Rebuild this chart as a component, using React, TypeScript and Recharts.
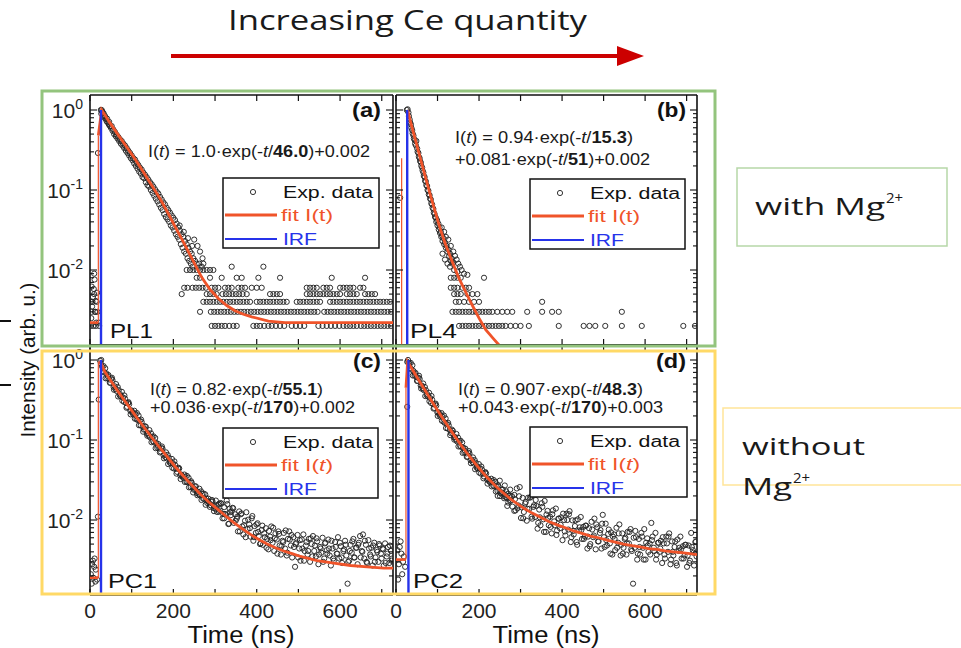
import React from "react";
import { ScatterChart, Scatter, XAxis, YAxis } from "recharts";

// ---------- axis definitions ----------
const X_TICKS = [0, 100, 200, 300, 400, 500, 600, 700];
const X_LABELED = [0, 200, 400, 600];
const Y_TICKS = [0.002, 0.003, 0.004, 0.005, 0.006, 0.007, 0.008, 0.009, 0.01, 0.02, 0.03, 0.04, 0.05, 0.06, 0.07, 0.08, 0.09, 0.1, 0.2, 0.3, 0.4, 0.5, 0.6, 0.7, 0.8, 0.9, 1];
const Y_MAJOR = [0.01, 0.1, 1];
const Y_DOMAIN = [0.001155, 1.54];

// ---------- (a) PL1 ----------
const pl1Pre = [[3, 0.0025], [5, 0.0035], [7, 0.0046], [9, 0.0058], [11, 0.0076], [13, 0.003], [15, 0.0022], [4, 0.0062], [10, 0.009], [14, 0.0041], [17, 0.0052], [19, 0.29], [21, 0.0022], [2, 0.004]];
const pl1Decay = [[26, 1.0], [28, 1.0], [30, 0.95], [27, 0.9], [30, 0.93], [32, 0.85], [33, 0.9], [35, 0.8], [36, 0.84], [38, 0.77], [40, 0.72], [41, 0.78], [43, 0.7], [45, 0.66], [46, 0.71], [48, 0.63], [50, 0.6], [52, 0.63], [54, 0.55], [56, 0.57], [58, 0.5], [60, 0.53], [62, 0.47], [64, 0.49], [66, 0.44], [68, 0.46], [70, 0.41], [72, 0.43], [74, 0.38], [76, 0.41], [78, 0.36], [80, 0.38], [82, 0.335], [84, 0.36], [86, 0.31], [88, 0.335], [90, 0.29], [92, 0.31], [94, 0.27], [96, 0.29], [98, 0.25], [100, 0.27], [102, 0.235], [104, 0.25], [106, 0.215], [108, 0.24], [110, 0.2], [112, 0.22], [114, 0.185], [116, 0.205], [118, 0.17], [120, 0.19], [122, 0.16], [124, 0.18], [126, 0.145], [128, 0.165], [130, 0.14], [132, 0.155], [134, 0.125], [136, 0.145], [138, 0.115], [140, 0.135], [142, 0.11], [144, 0.125], [146, 0.1], [148, 0.118], [150, 0.092], [152, 0.11], [154, 0.085], [156, 0.102], [158, 0.078], [160, 0.095], [162, 0.072], [164, 0.09], [166, 0.066], [168, 0.082], [170, 0.06], [172, 0.076], [174, 0.056], [176, 0.07], [178, 0.05], [180, 0.066], [182, 0.046], [184, 0.06], [186, 0.043], [188, 0.056], [190, 0.04], [192, 0.052], [194, 0.036], [196, 0.048], [198, 0.034], [200, 0.045], [202, 0.031], [204, 0.042], [206, 0.028], [208, 0.038], [210, 0.026], [212, 0.034], [214, 0.024], [216, 0.031], [218, 0.021], [220, 0.028], [222, 0.019], [224, 0.026], [226, 0.017], [228, 0.023], [230, 0.016], [232, 0.021], [234, 0.014], [236, 0.019], [238, 0.013], [240, 0.017], [242, 0.012], [244, 0.016], [246, 0.011], [248, 0.014], [252, 0.013], [256, 0.012], [215, 0.036], [225, 0.03], [235, 0.025], [245, 0.02], [250, 0.024], [258, 0.02], [264, 0.017], [270, 0.014], [262, 0.012], [268, 0.011], [272, 0.012], [340, 0.011], [416, 0.011]];
const pl1RowLevels = [0.002, 0.003, 0.004, 0.005, 0.006, 0.008, 0.01];
const pl1RowTimes = [
  [2, 8, 14, 22, 292, 300, 308, 316, 324, 334, 344, 352, 392, 400, 408, 418, 428, 436, 446, 456, 466, 484, 494, 504, 514, 548, 558, 568, 578, 588, 598, 608, 616, 624, 632, 640, 650, 658, 666, 674, 682, 690, 698, 706, 714, 722],
  [4, 12, 18, 264, 290, 298, 306, 314, 322, 330, 338, 346, 354, 362, 370, 378, 386, 394, 402, 410, 418, 426, 434, 442, 450, 458, 466, 474, 482, 490, 498, 506, 514, 522, 530, 538, 546, 562, 570, 578, 586, 594, 602, 610, 618, 626, 634, 642, 650, 658, 666, 674, 682, 690, 698, 706, 714, 722],
  [6, 16, 272, 280, 288, 296, 304, 312, 320, 328, 336, 344, 352, 360, 368, 376, 384, 400, 408, 416, 424, 432, 440, 448, 456, 464, 472, 496, 504, 512, 520, 528, 536, 544, 552, 576, 584, 592, 600, 608, 616, 624, 632, 640, 648, 656, 664, 672, 680, 688, 696, 704, 712, 720],
  [10, 220, 280, 288, 296, 304, 318, 326, 334, 342, 350, 358, 366, 376, 432, 440, 448, 456, 520, 528, 536, 544, 552, 560, 568, 576, 584, 592, 600, 616, 624, 632, 640, 660, 668, 676, 684],
  [226, 234, 246, 254, 262, 270, 278, 292, 300, 308, 324, 332, 340, 356, 364, 372, 388, 400, 412, 520, 528, 536, 544, 560, 568, 576, 600, 608, 616, 624, 632, 648, 656],
  [256, 264, 288, 316, 352, 364, 404, 456, 580, 660],
  [232, 240, 248, 256, 264, 272, 280, 288, 296],
];
const pl1FitRise = [[0, 0.0022], [20, 0.0022]];
const pl1FitRiseThin = [[20, 0.0022], [20, 0.48]];
const pl1Fit = [[20, 0.48], [28, 1.0], [48, 0.69], [68, 0.485], [88, 0.345], [108, 0.244], [128, 0.168], [148, 0.115], [168, 0.078], [188, 0.0505], [208, 0.032], [228, 0.0205], [248, 0.0128], [268, 0.0081], [288, 0.0057], [308, 0.0044], [328, 0.0036], [348, 0.0031], [368, 0.0028], [388, 0.0026], [428, 0.0023], [468, 0.0022], [727, 0.0022]];
const pl1Irf = [[26.4, 0.001155], [26.4, 1.0]];

// ---------- (b) PL4 ----------
const pl4Pre = [[10, 0.08]];
const pl4Decay = [[26, 1.0], [28, 1.02], [30, 0.93], [31, 0.84], [33, 0.76], [34, 0.7], [36, 0.66], [37, 0.6], [39, 0.56], [40, 0.51], [42, 0.48], [43, 0.44], [45, 0.42], [46, 0.38], [48, 0.36], [49, 0.41], [51, 0.33], [52, 0.3], [54, 0.29], [55, 0.26], [57, 0.25], [58, 0.23], [60, 0.22], [61, 0.2], [63, 0.19], [64, 0.175], [66, 0.165], [67, 0.15], [69, 0.145], [70, 0.13], [72, 0.128], [73, 0.115], [75, 0.112], [76, 0.1], [78, 0.098], [79, 0.088], [81, 0.086], [82, 0.078], [84, 0.076], [85, 0.068], [87, 0.066], [88, 0.06], [90, 0.058], [91, 0.052], [93, 0.05], [94, 0.046], [96, 0.045], [97, 0.04], [99, 0.042], [100, 0.036], [102, 0.038], [103, 0.032], [105, 0.034], [106, 0.029], [108, 0.03], [109, 0.026], [111, 0.027], [112, 0.023], [114, 0.025], [116, 0.021], [118, 0.022], [120, 0.019], [122, 0.02], [124, 0.017], [126, 0.018], [128, 0.015], [130, 0.016], [132, 0.013], [134, 0.014], [136, 0.012], [138, 0.0125], [110, 0.034], [116, 0.03], [120, 0.026], [126, 0.024], [132, 0.02], [138, 0.017], [142, 0.015], [146, 0.0135], [150, 0.012], [154, 0.011], [112, 0.016], [118, 0.0135], [124, 0.012], [130, 0.011], [140, 0.01], [148, 0.0095], [158, 0.01], [164, 0.009], [172, 0.0087]];
const pl4RowLevels = [0.002, 0.003, 0.004, 0.005, 0.006, 0.008];
const pl4RowTimes = [
  [152, 160, 168, 176, 184, 192, 200, 208, 216, 224, 232, 240, 248, 256, 264, 276, 288, 300, 320, 392, 452, 466, 480, 504, 544, 592, 692, 720],
  [136, 144, 152, 160, 168, 176, 184, 192, 200, 208, 216, 224, 232, 244, 256, 268, 280, 316, 352, 376, 392, 544],
  [144, 152, 164, 176, 188, 200, 352],
  [140, 148, 156, 172, 184, 196],
  [132, 140, 148, 160, 168, 176],
  [132, 140, 148, 156, 212],
];
const pl4FitRise = [[13.6, 0.001155], [13.6, 0.25]];
const pl4Fit = [[28, 1.0], [36, 0.68], [48, 0.4], [60, 0.235], [72, 0.138], [84, 0.082], [96, 0.05], [108, 0.031], [120, 0.0204], [136, 0.0125], [152, 0.0078], [168, 0.0053], [184, 0.0036], [200, 0.0025], [216, 0.0018], [234, 0.0014], [248, 0.001155]];
const pl4Irf = [[27, 0.001155], [27, 1.0]];

// ---------- (c) PC1 ----------
const pc1Pre = [[2, 0.0021], [5, 0.0028], [8, 0.0019], [11, 0.0033], [14, 0.0024], [17, 0.0018], [4, 0.0016], [10, 0.0026], [19, 0.011], [21, 0.32], [7, 0.0031], [13, 0.0017]];
const pc1Decay = [[24, 0.98], [27, 1.0], [26, 0.9], [29, 0.83], [31.5, 0.72], [34, 0.7], [36.5, 0.79], [39, 0.68], [41.5, 0.59], [44, 0.65], [46.5, 0.57], [49, 0.52], [51.5, 0.58], [54, 0.56], [56.5, 0.46], [59, 0.47], [61.5, 0.43], [64, 0.41], [66.5, 0.46], [69, 0.42], [71.5, 0.36], [74, 0.35], [76.5, 0.4], [79, 0.34], [81.5, 0.3], [84, 0.33], [86.5, 0.29], [89, 0.26], [91.5, 0.29], [94, 0.28], [96.5, 0.233], [99, 0.235], [101.5, 0.219], [104, 0.208], [106.5, 0.232], [109, 0.211], [111.5, 0.183], [114, 0.178], [116.5, 0.202], [119, 0.174], [121.5, 0.152], [124, 0.168], [126.5, 0.148], [129, 0.135], [131.5, 0.149], [134, 0.146], [136.5, 0.12], [139, 0.122], [141.5, 0.113], [144, 0.108], [146.5, 0.121], [149, 0.11], [151.5, 0.096], [154, 0.093], [156.5, 0.106], [159, 0.092], [161.5, 0.08], [164, 0.089], [166.5, 0.078], [169, 0.072], [171.5, 0.079], [174, 0.078], [176.5, 0.064], [179, 0.066], [181.5, 0.061], [184, 0.059], [186.5, 0.065], [189, 0.06], [191.5, 0.052], [194, 0.051], [196.5, 0.058], [199, 0.051], [201.5, 0.044], [204, 0.049], [206.5, 0.044], [209, 0.04], [211.5, 0.044], [214, 0.044], [216.5, 0.036], [219, 0.037], [221.5, 0.035], [224, 0.0335], [226.5, 0.037], [229, 0.0346], [231.5, 0.03], [234, 0.0297], [236.5, 0.0337], [239, 0.0296], [241.5, 0.0258], [244, 0.0292], [246.5, 0.0257], [249, 0.0239], [251.5, 0.0264], [254, 0.0263], [256.5, 0.0217], [259, 0.0225], [261.5, 0.0209], [264, 0.0204], [266.5, 0.0228], [269, 0.0213], [271.5, 0.0185], [274, 0.0184], [276.5, 0.0209], [279, 0.0186], [281.5, 0.0163], [284, 0.0185], [286.5, 0.0162], [289, 0.0153], [291.5, 0.017], [294, 0.0171], [296.5, 0.0141], [299, 0.0147], [301.5, 0.0137], [310, 0.016], [336, 0.0125], [322, 0.0105]];
const pc1Decay2 = [[32.5, 0.84], [37.5, 0.59], [42.5, 0.63], [47.5, 0.52], [52.5, 0.6], [57.5, 0.425], [62.5, 0.5], [67.5, 0.35], [72.5, 0.372], [77.5, 0.31], [82.5, 0.36], [87.5, 0.253], [92.5, 0.297], [97.5, 0.209], [102.5, 0.223], [107.5, 0.185], [112.5, 0.217], [117.5, 0.153], [122.5, 0.18], [127.5, 0.127], [132.5, 0.136], [137.5, 0.113], [142.5, 0.133], [147.5, 0.094], [152.5, 0.111], [157.5, 0.079], [162.5, 0.085], [167.5, 0.07], [172.5, 0.083], [177.5, 0.059], [182.5, 0.07], [187.5, 0.05], [192.5, 0.054], [197.5, 0.045], [202.5, 0.054], [207.5, 0.038], [212.5, 0.045], [217.5, 0.0325], [222.5, 0.0353], [227.5, 0.0299], [232.5, 0.0356], [237.5, 0.0256], [242.5, 0.0305], [247.5, 0.0221], [252.5, 0.0241], [257.5, 0.0204], [262.5, 0.0246], [267.5, 0.0178], [272.5, 0.0214], [277.5, 0.0155], [282.5, 0.0172], [287.5, 0.0146], [292.5, 0.0178], [297.5, 0.0129]];
const pc1Tail = [[302, 0.0175], [305, 0.0126], [308, 0.0155], [312, 0.0131], [315, 0.016], [318, 0.0105], [322, 0.0145], [325, 0.0118], [328, 0.0175], [332, 0.0089], [335, 0.0138], [338, 0.0115], [342, 0.0142], [345, 0.0092], [348, 0.0118], [352, 0.0104], [355, 0.0072], [358, 0.0128], [362, 0.0118], [365, 0.0083], [368, 0.0066], [372, 0.0098], [375, 0.0125], [378, 0.0077], [382, 0.0088], [385, 0.0062], [388, 0.0105], [392, 0.0055], [395, 0.0084], [398, 0.0069], [402, 0.0091], [405, 0.0063], [408, 0.005], [412, 0.0075], [415, 0.0049], [418, 0.0068], [422, 0.0079], [425, 0.0058], [428, 0.0043], [432, 0.0062], [435, 0.0083], [438, 0.0052], [442, 0.0041], [445, 0.0068], [448, 0.0057], [452, 0.0072], [455, 0.0048], [458, 0.0037], [462, 0.0055], [465, 0.0069], [468, 0.0044], [472, 0.0036], [475, 0.0058], [478, 0.0072], [482, 0.0048], [485, 0.0034], [488, 0.0061], [492, 0.0026], [495, 0.0052], [498, 0.0065], [502, 0.0044], [505, 0.0031], [508, 0.0057], [512, 0.0066], [515, 0.0041], [518, 0.0048], [522, 0.0037], [525, 0.0058], [528, 0.003], [532, 0.005], [535, 0.0063], [538, 0.0041], [542, 0.0035], [545, 0.0054], [548, 0.0028], [552, 0.0046], [555, 0.0039], [558, 0.006], [562, 0.0033], [565, 0.0052], [568, 0.0042], [572, 0.0057], [575, 0.0036], [578, 0.0027], [582, 0.0044], [585, 0.0031], [588, 0.0053], [592, 0.0038], [595, 0.0061], [598, 0.0033], [602, 0.0047], [605, 0.0029], [608, 0.0041], [612, 0.0055], [615, 0.0036], [618, 0.0016], [622, 0.0031], [625, 0.0049], [628, 0.0039], [632, 0.0058], [635, 0.0034], [638, 0.0045], [642, 0.0028], [645, 0.0052], [648, 0.0063], [652, 0.0041], [655, 0.0066], [658, 0.0033], [662, 0.0049], [665, 0.0029], [668, 0.0056], [672, 0.0037], [675, 0.0045], [678, 0.0027], [682, 0.0052], [685, 0.0034], [688, 0.0042], [692, 0.003], [695, 0.0048], [698, 0.0038], [702, 0.0044], [705, 0.0027], [708, 0.0051], [712, 0.0035], [715, 0.0046], [718, 0.0029], [722, 0.0041], [725, 0.0033]];
const pc1Tail2 = [[303.5, 0.0152], [309.5, 0.0127], [313.5, 0.0163], [319.5, 0.0119], [323.5, 0.0119], [329.5, 0.0158], [333.5, 0.009], [339.5, 0.0128], [343.5, 0.014], [349.5, 0.0098], [353.5, 0.011], [359.5, 0.0072], [363.5, 0.0121], [369.5, 0.0086], [373.5, 0.0061], [379.5, 0.0101], [383.5, 0.0079], [389.5, 0.0112], [393.5, 0.0061], [399.5, 0.0088], [403.5, 0.0071], [409.5, 0.0051], [413.5, 0.0085], [419.5, 0.0061], [423.5, 0.0045], [429.5, 0.0073], [433.5, 0.0056], [439.5, 0.008], [443.5, 0.0059], [449.5, 0.0038], [453.5, 0.0067], [459.5, 0.0047], [463.5, 0.0053], [469.5, 0.0074], [473.5, 0.0039], [479.5, 0.0057], [483.5, 0.0065], [489.5, 0.0046], [493.5, 0.005], [499.5, 0.0034], [503.5, 0.0056], [509.5, 0.0044], [513.5, 0.0031], [519.5, 0.0053], [523.5, 0.0041], [529.5, 0.0059], [533.5, 0.0035], [539.5, 0.0048], [543.5, 0.0059], [549.5, 0.0037], [553.5, 0.0044], [559.5, 0.003], [563.5, 0.0051], [569.5, 0.0038], [573.5, 0.0044], [579.5, 0.0055], [583.5, 0.0033], [589.5, 0.0046], [593.5, 0.0038], [599.5, 0.0052], [603.5, 0.0034], [609.5, 0.0043], [613.5, 0.0049], [619.5, 0.003], [623.5, 0.0041], [629.5, 0.0054], [633.5, 0.0034], [639.5, 0.0045], [643.5, 0.0049], [649.5, 0.0034], [653.5, 0.004], [659.5, 0.0055], [663.5, 0.003], [669.5, 0.0044], [673.5, 0.0035], [679.5, 0.0048], [683.5, 0.003], [689.5, 0.004], [693.5, 0.005], [699.5, 0.0033], [703.5, 0.0043], [709.5, 0.0029], [713.5, 0.0038], [719.5, 0.0048], [723.5, 0.0031]];
const pc1FitFlat = [[0, 0.0019], [20, 0.0019]];
const pc1FitRiseThin = [[20, 0.0019], [20, 0.9]];
const pc1Fit = [[20, 0.9], [25, 0.95], [35, 0.72], [45, 0.6], [55, 0.5], [65, 0.42], [75, 0.355], [85, 0.3], [105, 0.215], [125, 0.155], [145, 0.113], [165, 0.083], [185, 0.062], [205, 0.046], [225, 0.035], [245, 0.027], [265, 0.021], [285, 0.0168], [305, 0.0138], [325, 0.0113], [345, 0.0093], [365, 0.0078], [385, 0.0066], [405, 0.0057], [425, 0.005], [445, 0.0045], [465, 0.0041], [485, 0.0038], [505, 0.0035], [545, 0.0031], [585, 0.0029], [625, 0.0027], [665, 0.0026], [705, 0.0025], [727, 0.0025]];
const pc1Irf = [[26.4, 0.001155], [26.4, 1.0]];

// ---------- (d) PC2 ----------
const pc2Pre = [[3, 0.0042], [7, 0.0028], [11, 0.0054], [15, 0.0021], [19, 0.0035], [5, 0.0018], [13, 0.0038], [22, 0.0026], [27, 0.26], [9, 0.0046], [17, 0.003]];
const pc2Decay = [[27, 0.95], [29, 1.0], [30, 0.92], [32, 0.91], [34.5, 0.79], [37, 0.76], [39.5, 0.86], [42, 0.73], [44.5, 0.64], [47, 0.69], [49.5, 0.61], [52, 0.55], [54.5, 0.6], [57, 0.58], [59.5, 0.48], [62, 0.48], [64.5, 0.44], [67, 0.42], [69.5, 0.46], [72, 0.42], [74.5, 0.36], [77, 0.35], [79.5, 0.39], [82, 0.335], [84.5, 0.29], [87, 0.32], [89.5, 0.28], [92, 0.252], [94.5, 0.279], [97, 0.269], [99.5, 0.222], [102, 0.223], [104.5, 0.207], [107, 0.195], [109.5, 0.217], [112, 0.196], [114.5, 0.17], [117, 0.164], [119.5, 0.186], [122, 0.159], [124.5, 0.139], [127, 0.153], [129.5, 0.134], [132, 0.122], [134.5, 0.135], [137, 0.13], [139.5, 0.108], [142, 0.109], [144.5, 0.101], [147, 0.096], [149.5, 0.107], [152, 0.097], [154.5, 0.084], [157, 0.082], [159.5, 0.093], [162, 0.08], [164.5, 0.07], [167, 0.078], [169.5, 0.068], [172, 0.062], [174.5, 0.069], [177, 0.068], [179.5, 0.056], [182, 0.057], [184.5, 0.053], [187, 0.051], [189.5, 0.056], [192, 0.052], [194.5, 0.045], [197, 0.044], [199.5, 0.05], [202, 0.044], [204.5, 0.038], [207, 0.043], [209.5, 0.038], [212, 0.035], [214.5, 0.039], [217, 0.038], [219.5, 0.032], [222, 0.0327], [224.5, 0.0304], [227, 0.0295], [229.5, 0.0328], [232, 0.0306], [234.5, 0.0266], [237, 0.0264], [239.5, 0.0299], [242, 0.0265], [244.5, 0.0231], [247, 0.0262], [249.5, 0.0231], [252, 0.0216], [254.5, 0.0239], [257, 0.0241], [259.5, 0.0199], [262, 0.0208], [264.5, 0.0193], [267, 0.019], [269.5, 0.0212], [272, 0.02], [274.5, 0.0174], [277, 0.0175], [279.5, 0.0198], [250, 0.031], [262, 0.027], [275, 0.024], [268, 0.015], [285, 0.013], [245, 0.02]];
const pc2Decay2 = [[35.5, 0.92], [40.5, 0.64], [45.5, 0.672], [50.5, 0.548], [55.5, 0.635], [60.5, 0.44], [65.5, 0.508], [70.5, 0.354], [75.5, 0.373], [80.5, 0.305], [85.5, 0.355], [90.5, 0.247], [95.5, 0.285], [100.5, 0.2], [105.5, 0.212], [110.5, 0.174], [115.5, 0.202], [120.5, 0.141], [125.5, 0.164], [130.5, 0.115], [135.5, 0.123], [140.5, 0.101], [145.5, 0.119], [150.5, 0.083], [155.5, 0.098], [160.5, 0.069], [165.5, 0.074], [170.5, 0.0615], [175.5, 0.0726], [180.5, 0.0513], [185.5, 0.0606], [190.5, 0.0431], [195.5, 0.0466], [200.5, 0.0391], [205.5, 0.0466], [210.5, 0.0332], [215.5, 0.0396], [220.5, 0.0285], [225.5, 0.0311], [230.5, 0.0263], [235.5, 0.0316], [240.5, 0.0227], [245.5, 0.0273], [250.5, 0.0199], [255.5, 0.0219], [260.5, 0.0187], [265.5, 0.0228], [270.5, 0.0165], [275.5, 0.0202], [280.5, 0.0147]];
const pc2Tail = [[285, 0.0206], [288, 0.0132], [291, 0.0248], [295, 0.0152], [298, 0.0258], [301, 0.0106], [305, 0.0189], [308, 0.0126], [311, 0.0161], [315, 0.0098], [318, 0.019], [321, 0.0138], [325, 0.0195], [328, 0.0104], [331, 0.0146], [335, 0.0109], [338, 0.015], [341, 0.0078], [345, 0.0135], [348, 0.0086], [351, 0.0162], [355, 0.0102], [358, 0.0173], [361, 0.0071], [365, 0.013], [368, 0.0086], [371, 0.011], [375, 0.0068], [378, 0.0132], [381, 0.0096], [385, 0.0139], [388, 0.0074], [391, 0.0104], [395, 0.0079], [398, 0.0108], [401, 0.0056], [405, 0.01], [408, 0.0064], [411, 0.012], [415, 0.0076], [418, 0.0129], [421, 0.0053], [425, 0.0099], [428, 0.0066], [431, 0.0084], [435, 0.0053], [438, 0.0102], [441, 0.0074], [445, 0.0109], [448, 0.0058], [451, 0.0082], [455, 0.0062], [458, 0.0085], [461, 0.0044], [465, 0.0079], [468, 0.005], [471, 0.0095], [475, 0.0061], [478, 0.0104], [481, 0.0043], [485, 0.0081], [488, 0.0054], [491, 0.0069], [495, 0.0044], [498, 0.0116], [501, 0.0061], [505, 0.009], [508, 0.0048], [511, 0.0067], [515, 0.0051], [518, 0.007], [521, 0.0037], [525, 0.0066], [528, 0.0042], [531, 0.008], [535, 0.0052], [538, 0.0088], [541, 0.0036], [545, 0.0068], [548, 0.0045], [551, 0.0058], [555, 0.0037], [558, 0.0071], [561, 0.0051], [565, 0.0077], [568, 0.0041], [571, 0.0016], [575, 0.0045], [578, 0.0061], [581, 0.0032], [585, 0.0058], [588, 0.0037], [591, 0.0069], [595, 0.0045], [598, 0.0077], [601, 0.0032], [605, 0.0059], [608, 0.004], [611, 0.0051], [615, 0.0092], [618, 0.0062], [621, 0.0045], [625, 0.0069], [628, 0.0037], [631, 0.0052], [635, 0.004], [638, 0.0055], [641, 0.0029], [645, 0.0051], [648, 0.0033], [651, 0.0062], [655, 0.004], [658, 0.0068], [661, 0.0028], [665, 0.0054], [668, 0.0036], [671, 0.0046], [675, 0.0029], [678, 0.0057], [681, 0.0041], [685, 0.0062], [688, 0.0033], [691, 0.0047], [695, 0.0036], [698, 0.0049], [701, 0.0026], [705, 0.0048], [708, 0.0031], [711, 0.0069], [715, 0.0042], [718, 0.0027], [721, 0.0053], [724, 0.0035]];
const pc2Tail2 = [[286.5, 0.0182], [292.5, 0.014], [296.5, 0.0198], [302.5, 0.0144], [306.5, 0.0105], [312.5, 0.0168], [316.5, 0.0138], [322.5, 0.019], [326.5, 0.011], [332.5, 0.0153], [336.5, 0.0178], [342.5, 0.0092], [346.5, 0.0108], [352.5, 0.0146], [356.5, 0.0071], [362.5, 0.0117], [366.5, 0.0106], [372.5, 0.0082], [376.5, 0.0118], [382.5, 0.0086], [386.5, 0.0065], [392.5, 0.0104], [396.5, 0.0087], [402.5, 0.012], [406.5, 0.0072], [412.5, 0.01], [416.5, 0.0118], [422.5, 0.0061], [426.5, 0.0073], [432.5, 0.0099], [436.5, 0.0049], [442.5, 0.0081], [446.5, 0.0075], [452.5, 0.0058], [456.5, 0.0085], [462.5, 0.0062], [466.5, 0.0047], [472.5, 0.0076], [476.5, 0.0064], [482.5, 0.0088], [486.5, 0.0054], [492.5, 0.0075], [496.5, 0.009], [502.5, 0.0046], [506.5, 0.0056], [512.5, 0.0076], [516.5, 0.0038], [522.5, 0.0062], [526.5, 0.0058], [532.5, 0.0045], [536.5, 0.0068], [542.5, 0.0049], [546.5, 0.0038], [552.5, 0.006], [556.5, 0.0051], [562.5, 0.0071], [566.5, 0.0043], [572.5, 0.006], [576.5, 0.0073], [582.5, 0.0038], [586.5, 0.0046], [592.5, 0.0062], [596.5, 0.0032], [602.5, 0.0052], [606.5, 0.0048], [612.5, 0.0037], [616.5, 0.0056], [622.5, 0.0041], [626.5, 0.0032], [632.5, 0.0052], [636.5, 0.0044], [642.5, 0.0061], [646.5, 0.0037], [652.5, 0.0051], [656.5, 0.0062], [662.5, 0.0032], [666.5, 0.004], [672.5, 0.0054], [676.5, 0.0027], [682.5, 0.0045], [686.5, 0.0043], [692.5, 0.0033], [696.5, 0.0049], [702.5, 0.0036], [706.5, 0.0029], [712.5, 0.0046], [716.5, 0.0039], [722.5, 0.0054]];
const pc2FitFlat = [[0, 0.0032], [24, 0.0032]];
const pc2FitRiseThin = [[24, 0.0032], [24, 0.45]];
const pc2Fit = [[24, 0.45], [28, 0.953], [33, 0.8625], [38, 0.781], [43, 0.707], [48, 0.641], [58, 0.526], [68, 0.433], [78, 0.357], [88, 0.295], [98, 0.244], [108, 0.203], [118, 0.169], [128, 0.141], [138, 0.1185], [148, 0.0998], [158, 0.0845], [168, 0.0719], [178, 0.0614], [188, 0.0528], [198, 0.0457], [208, 0.0397], [218, 0.0348], [228, 0.0307], [238, 0.0272], [248, 0.0243], [258, 0.0219], [268, 0.0198], [278, 0.018], [288, 0.0165], [308, 0.014], [328, 0.0122], [348, 0.0108], [368, 0.0096], [388, 0.0087], [408, 0.008], [428, 0.0073], [448, 0.0068], [468, 0.0063], [488, 0.006], [508, 0.0056], [528, 0.0053], [548, 0.005], [568, 0.0048], [588, 0.0046], [608, 0.0044], [628, 0.0043], [648, 0.0041], [668, 0.004], [688, 0.0039], [708, 0.0038], [725, 0.0037]];
const pc2Irf = [[30, 0.001155], [30, 1.0]];

// ---------- styling ----------
const FONT = "'Liberation Sans', Arial, Helvetica, sans-serif";
const SLIDE_FONT = "'Open Sans', 'Noto Sans', sans-serif";
const FIT_COLOR = "#f0542a";
const IRF_COLOR = "#2633ea";
const AXIS_LINE = { stroke: "#111", strokeWidth: 1.6 };

type P = { t: number; v: number };
type Seg = { pts: P[]; w: number };
const toPts = (arr: number[][]): P[] => arr.map(([t, v]) => ({ t, v }));
const rowsToPts = (levels: number[], times: number[][]): P[] =>
  levels.flatMap((lv, i) => times[i].map((t) => ({ t, v: lv })));

const circleShape = (p: any) => (
  <circle cx={p.cx} cy={p.cy} r={2.6} fill="none" stroke="#262626" strokeWidth={0.95} />
);
const noShape = () => <g />;

const bottomTick = (show: boolean) => (p: any) => {
  const v = p.payload.value;
  return (
    <g>
      <line x1={p.x} y1={p.y} x2={p.x} y2={p.y - 6} stroke="#111" strokeWidth={1.2} />
      {show && X_LABELED.includes(v) ? (
        <text x={p.x} y={p.y + 23} textAnchor="middle" fontSize={21} fill="#222" fontFamily={FONT}>
          {v}
        </text>
      ) : null}
    </g>
  );
};
const topTick = (p: any) => (
  <line x1={p.x} y1={p.y} x2={p.x} y2={p.y + 6} stroke="#111" strokeWidth={1.2} />
);
const leftTick = (show: boolean) => (p: any) => {
  const v = p.payload.value;
  const major = Y_MAJOR.some((m) => Math.abs(m - v) < 1e-9);
  const exp = Math.round(Math.log10(v));
  return (
    <g>
      <line x1={p.x} y1={p.y} x2={p.x + (major ? 7 : 4)} y2={p.y} stroke="#111" strokeWidth={1.1} />
      {show && major ? (
        <text x={p.x - 7} y={p.y + 8} textAnchor="end" fontSize={21} fill="#222" fontFamily={FONT}>
          10
          <tspan dy={-9} fontSize={14}>
            {String(exp)}
          </tspan>
        </text>
      ) : null}
    </g>
  );
};
const rightTick = (p: any) => {
  const v = p.payload.value;
  const major = Y_MAJOR.some((m) => Math.abs(m - v) < 1e-9);
  return <line x1={p.x} y1={p.y} x2={p.x - (major ? 7 : 4)} y2={p.y} stroke="#111" strokeWidth={1.1} />;
};

type PanelProps = {
  px: number;
  py: number;
  pw: number;
  ph: number;
  xMax: number;
  points: P[];
  fits: Seg[];
  irf: P[];
  showX: boolean;
  showY: boolean;
};

function Panel({ px, py, pw, ph, xMax, points, fits, irf, showX, showY }: PanelProps) {
  const AXW = 60;
  const TOPH = 10;
  const RW = 10;
  const BH = 60;
  return (
    <div style={{ position: "absolute", left: px - AXW, top: py - TOPH }}>
      <ScatterChart width={AXW + pw + RW} height={TOPH + ph + BH} margin={{ top: 0, right: 0, bottom: 0, left: 0 }}>
        <XAxis xAxisId={0} dataKey="t" type="number" domain={[0, xMax]} ticks={X_TICKS} allowDataOverflow interval={0}
          height={BH} tickSize={0} tickMargin={0} tickLine={false} axisLine={AXIS_LINE} tick={bottomTick(showX)} />
        <XAxis xAxisId="top" orientation="top" dataKey="t" type="number" domain={[0, xMax]} ticks={X_TICKS} allowDataOverflow
          interval={0} height={TOPH} tickSize={0} tickMargin={0} tickLine={false} axisLine={AXIS_LINE} tick={topTick} />
        <YAxis yAxisId={0} dataKey="v" type="number" scale="log" domain={Y_DOMAIN} ticks={Y_TICKS} allowDataOverflow interval={0}
          width={AXW} tickSize={0} tickMargin={0} tickLine={false} axisLine={AXIS_LINE} tick={leftTick(showY)} />
        <YAxis yAxisId="right" orientation="right" dataKey="v" type="number" scale="log" domain={Y_DOMAIN} ticks={Y_TICKS}
          allowDataOverflow interval={0} width={RW} tickSize={0} tickMargin={0} tickLine={false} axisLine={AXIS_LINE} tick={rightTick} />
        <Scatter data={points} shape={circleShape} isAnimationActive={false} />
        {fits.map((seg, i) => (
          <Scatter key={i} data={seg.pts} line={{ stroke: FIT_COLOR, strokeWidth: seg.w }} shape={noShape} isAnimationActive={false} />
        ))}
        <Scatter data={irf} line={{ stroke: IRF_COLOR, strokeWidth: 2.4 }} shape={noShape} isAnimationActive={false} />
      </ScatterChart>
    </div>
  );
}

function LegendBox({ x, y, w, italic }: { x: number; y: number; w: number; italic: boolean }) {
  return (
    <g fontFamily={FONT}>
      <rect x={x} y={y} width={w} height={70} fill="#fff" stroke="#111" strokeWidth={1.5} />
      <circle cx={x + 30} cy={y + 14} r={2.6} fill="none" stroke="#333" strokeWidth={1} />
      <text x={x + 60} y={y + 20} fontSize={16} fill="#111" textLength={90} lengthAdjust="spacingAndGlyphs">
        Exp. data
      </text>
      <line x1={x + 2} x2={x + 54} y1={y + 37} y2={y + 37} stroke={FIT_COLOR} strokeWidth={3} />
      <text x={x + 58} y={y + 43} fontSize={16} fill={FIT_COLOR} textLength={52} lengthAdjust="spacingAndGlyphs">
        {"fit I("}
        {italic ? <tspan fontStyle="italic">t</tspan> : "t"}
        {")"}
      </text>
      <line x1={x + 2} x2={x + 54} y1={y + 61} y2={y + 61} stroke={IRF_COLOR} strokeWidth={2} />
      <text x={x + 60} y={y + 67} fontSize={16} fill={IRF_COLOR} textLength={34} lengthAdjust="spacingAndGlyphs">
        IRF
      </text>
    </g>
  );
}

function EqLine1({ x, y, len, amp, tau }: { x: number; y: number; len: number; amp: string; tau: string }) {
  return (
    <text x={x} y={y} fontSize={16} fill="#1a1a1a" fontFamily={FONT} textLength={len} lengthAdjust="spacingAndGlyphs">
      {"I("}
      <tspan fontStyle="italic">t</tspan>
      {") = " + amp + "\u00b7exp(-"}
      <tspan fontStyle="italic">t</tspan>
      {"/"}
      <tspan fontWeight="bold">{tau}</tspan>
      {")"}
    </text>
  );
}
function EqLine2({ x, y, len, amp, tau, c }: { x: number; y: number; len: number; amp: string; tau: string; c: string }) {
  return (
    <text x={x} y={y} fontSize={16} fill="#1a1a1a" fontFamily={FONT} textLength={len} lengthAdjust="spacingAndGlyphs">
      {"+" + amp + "\u00b7exp(-"}
      <tspan fontStyle="italic">t</tspan>
      {"/"}
      <tspan fontWeight="bold">{tau}</tspan>
      {")+" + c}
    </text>
  );
}

export default function App() {
  const aPts = [...toPts(pl1Pre), ...toPts(pl1Decay), ...rowsToPts(pl1RowLevels, pl1RowTimes)];
  const bPts = [...toPts(pl4Pre), ...toPts(pl4Decay), ...rowsToPts(pl4RowLevels, pl4RowTimes)];
  const cPts = [...toPts(pc1Pre), ...toPts(pc1Decay), ...toPts(pc1Decay2), ...toPts(pc1Tail), ...toPts(pc1Tail2)];
  const dPts = [...toPts(pc2Pre), ...toPts(pc2Decay), ...toPts(pc2Decay2), ...toPts(pc2Tail), ...toPts(pc2Tail2)];

  const aFits: Seg[] = [{ pts: toPts(pl1FitRise), w: 2.6 }, { pts: toPts(pl1FitRiseThin), w: 1.2 }, { pts: toPts(pl1Fit), w: 2.8 }];
  const bFits: Seg[] = [{ pts: toPts(pl4FitRise), w: 1.2 }, { pts: toPts(pl4Fit), w: 2.8 }];
  const cFits: Seg[] = [{ pts: toPts(pc1FitFlat), w: 2.6 }, { pts: toPts(pc1FitRiseThin), w: 1.2 }, { pts: toPts(pc1Fit), w: 2.8 }];
  const dFits: Seg[] = [{ pts: toPts(pc2FitFlat), w: 2.6 }, { pts: toPts(pc2FitRiseThin), w: 1.2 }, { pts: toPts(pc2Fit), w: 2.8 }];

  return (
    <div style={{ position: "absolute", left: 0, top: 0, width: 961, height: 648, background: "#fff", overflow: "hidden" }}>
      <Panel px={90} py={95} pw={303} ph={250} xMax={727} points={aPts} fits={aFits} irf={toPts(pl1Irf)} showX={false} showY={true} />
      <Panel px={396} py={95} pw={301} ph={250} xMax={725} points={bPts} fits={bFits} irf={toPts(pl4Irf)} showX={false} showY={false} />
      <Panel px={90} py={345} pw={303} ph={250} xMax={727} points={cPts} fits={cFits} irf={toPts(pc1Irf)} showX={true} showY={true} />
      <Panel px={396} py={345} pw={301} ph={250} xMax={725} points={dPts} fits={dFits} irf={toPts(pc2Irf)} showX={true} showY={false} />

      <svg width={961} height={648} style={{ position: "absolute", left: 0, top: 0, pointerEvents: "none" }}>
        {/* title + arrow */}
        <text x={228} y={30} fontSize={28} fill="#1a1a1a" fontFamily={SLIDE_FONT} textLength={359} lengthAdjust="spacingAndGlyphs">
          Increasing Ce quantity
        </text>
        <line x1={171} y1={56} x2={620} y2={56} stroke="#cc0000" strokeWidth={4} />
        <polygon points="617,46 644,56 617,66" fill="#cc0000" />

        {/* group boxes */}
        <rect x={42} y={91} width={673} height={255} fill="none" stroke="#93c47d" strokeWidth={3} />
        <rect x={42} y={351} width={673} height={243} fill="none" stroke="#ffd966" strokeWidth={3} />

        {/* side labels */}
        <rect x={737} y={168} width={210} height={78} fill="none" stroke="#b6d7a8" strokeWidth={1.5} />
        <text x={755} y={215} fontSize={24} fill="#1a1a1a" fontFamily={SLIDE_FONT} textLength={130} lengthAdjust="spacingAndGlyphs">
          with Mg
        </text>
        <text x={886} y={203} fontSize={15} fill="#1a1a1a" fontFamily={SLIDE_FONT}>
          2+
        </text>
        <rect x={723} y={408} width={260} height={77} fill="none" stroke="#ffe599" strokeWidth={1.5} />
        <text x={742} y={455} fontSize={24} fill="#1a1a1a" fontFamily={SLIDE_FONT} textLength={123} lengthAdjust="spacingAndGlyphs">
          without
        </text>
        <text x={742} y={495} fontSize={24} fill="#1a1a1a" fontFamily={SLIDE_FONT} textLength={50} lengthAdjust="spacingAndGlyphs">
          Mg
        </text>
        <text x={793} y={483} fontSize={15} fill="#1a1a1a" fontFamily={SLIDE_FONT}>
          2+
        </text>

        {/* y label & stray marks */}
        <text x={0} y={0} transform="translate(35,360) rotate(-90)" textAnchor="middle" fontSize={20} fill="#111" fontFamily={FONT}
          textLength={155} lengthAdjust="spacingAndGlyphs">
          Intensity (arb. u.)
        </text>
        <line x1={0} y1={321} x2={11} y2={321} stroke="#111" strokeWidth={2} />
        <line x1={0} y1={385} x2={11} y2={385} stroke="#111" strokeWidth={2} />

        {/* x labels */}
        <text x={241} y={643} textAnchor="middle" fontSize={23} fill="#111" fontFamily={FONT} textLength={107} lengthAdjust="spacingAndGlyphs">
          Time (ns)
        </text>
        <text x={546} y={643} textAnchor="middle" fontSize={23} fill="#111" fontFamily={FONT} textLength={107} lengthAdjust="spacingAndGlyphs">
          Time (ns)
        </text>

        {/* panel tags */}
        <g fontFamily={FONT} fontWeight="bold" fontSize={20} fill="#111" textAnchor="end">
          <text x={381} y={117} textLength={29} lengthAdjust="spacingAndGlyphs">(a)</text>
          <text x={686} y={117} textLength={29} lengthAdjust="spacingAndGlyphs">(b)</text>
          <text x={381} y={368} textLength={28} lengthAdjust="spacingAndGlyphs">(c)</text>
          <text x={686} y={368} textLength={30} lengthAdjust="spacingAndGlyphs">(d)</text>
        </g>
        <g fontFamily={FONT} fontSize={21} fill="#111">
          <text x={110} y={338} textLength={43} lengthAdjust="spacingAndGlyphs">PL1</text>
          <text x={410} y={338} textLength={47} lengthAdjust="spacingAndGlyphs">PL4</text>
          <text x={108} y={588} textLength={49} lengthAdjust="spacingAndGlyphs">PC1</text>
          <text x={413} y={588} textLength={50} lengthAdjust="spacingAndGlyphs">PC2</text>
        </g>

        {/* equations */}
        <text x={148} y={157} fontSize={16} fill="#1a1a1a" fontFamily={FONT} textLength={222} lengthAdjust="spacingAndGlyphs">
          {"I("}
          <tspan fontStyle="italic">t</tspan>
          {") = 1.0\u00b7exp(-"}
          <tspan fontStyle="italic">t</tspan>
          {"/"}
          <tspan fontWeight="bold">46.0</tspan>
          {")+0.002"}
        </text>
        <EqLine1 x={455} y={143} len={178} amp="0.94" tau="15.3" />
        <EqLine2 x={455} y={165} len={195} amp="0.081" tau="51" c="0.002" />
        <EqLine1 x={150} y={395} len={173} amp="0.82" tau="55.1" />
        <EqLine2 x={150} y={413} len={205} amp="0.036" tau="170" c="0.002" />
        <EqLine1 x={458} y={395} len={185} amp="0.907" tau="48.3" />
        <EqLine2 x={458} y={413} len={205} amp="0.043" tau="170" c="0.003" />

        {/* legends */}
        <LegendBox x={223} y={178} w={156} italic={false} />
        <LegendBox x={530} y={179} w={155} italic={false} />
        <LegendBox x={223} y={428} w={155} italic={true} />
        <LegendBox x={530} y={427} w={157} italic={true} />
      </svg>
    </div>
  );
}
